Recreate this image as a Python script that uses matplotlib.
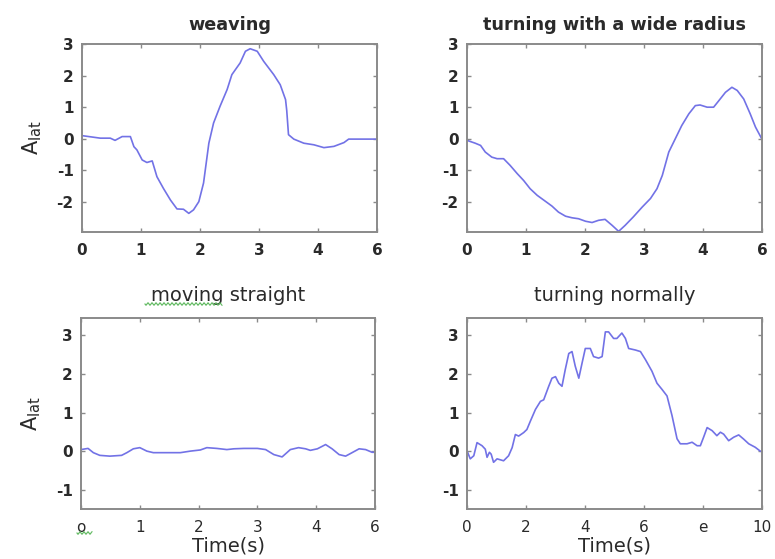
import numpy as np
import matplotlib
matplotlib.use("Agg")
import matplotlib.pyplot as plt

# ---------------- data ----------------
weaving_t = [0, 0.31, 0.48, 0.56, 0.68, 0.82, 0.88, 0.93, 1.02, 1.10, 1.19, 1.27, 1.38, 1.50,
             1.61, 1.72, 1.81, 1.89, 1.98, 2.06, 2.15, 2.23, 2.34, 2.46, 2.54, 2.68, 2.77, 2.85,
             2.97, 3.08, 3.25, 3.36, 3.45, 3.47, 3.50, 3.59, 3.76, 3.93, 4.10, 4.27, 4.44, 4.52, 5.0]
weaving_a = [0.10, 0.02, 0.02, -0.05, 0.07, 0.07, -0.25, -0.35, -0.67, -0.75, -0.70, -1.20, -1.57,
             -1.94, -2.22, -2.23, -2.36, -2.25, -1.99, -1.40, -0.14, 0.50, 1.03, 1.56, 2.03, 2.40,
             2.77, 2.85, 2.77, 2.45, 2.03, 1.71, 1.24, 0.90, 0.13, -0.01, -0.14, -0.19, -0.28,
             -0.24, -0.12, -0.01, -0.01]

wide_t = [0, 0.14, 0.23, 0.31, 0.42, 0.51, 0.62, 0.73, 0.85, 0.96, 1.07, 1.19, 1.33, 1.44, 1.55,
          1.67, 1.78, 1.89, 2.01, 2.12, 2.23, 2.34, 2.46, 2.57, 2.68, 2.82, 2.97, 3.11, 3.22, 3.31,
          3.42, 3.53, 3.64, 3.76, 3.87, 3.95, 4.07, 4.18, 4.27, 4.38, 4.49, 4.58, 4.69, 4.80, 4.89, 4.99]
wide_a = [-0.05, -0.14, -0.21, -0.42, -0.58, -0.63, -0.63, -0.84, -1.10, -1.32, -1.58, -1.79, -1.98,
          -2.13, -2.32, -2.45, -2.50, -2.53, -2.61, -2.65, -2.58, -2.55, -2.74, -2.93, -2.74, -2.47,
          -2.16, -1.89, -1.58, -1.16, -0.42, 0.00, 0.42, 0.79, 1.05, 1.07, 1.00, 1.00, 1.21, 1.47,
          1.63, 1.53, 1.26, 0.79, 0.37, 0.02]

straight_t = [0, 0.12, 0.21, 0.32, 0.49, 0.69, 0.78, 0.89, 1.00, 1.12, 1.23, 1.46, 1.69, 1.86, 2.03,
              2.14, 2.31, 2.48, 2.60, 2.77, 3.00, 3.14, 3.28, 3.42, 3.56, 3.70, 3.82, 3.90, 4.02,
              4.16, 4.27, 4.39, 4.50, 4.61, 4.73, 4.84, 4.95, 5.0]
straight_a = [0.04, 0.07, -0.04, -0.11, -0.13, -0.11, -0.04, 0.06, 0.09, 0.00, -0.04, -0.04, -0.04,
              0.00, 0.03, 0.09, 0.07, 0.04, 0.06, 0.07, 0.07, 0.04, -0.09, -0.15, 0.04, 0.09, 0.06,
              0.02, 0.06, 0.17, 0.06, -0.09, -0.13, -0.04, 0.06, 0.04, -0.03, -0.03]

normal_t = [0, 0.11, 0.23, 0.34, 0.51, 0.62, 0.68, 0.76, 0.82, 0.90, 1.02, 1.24, 1.41, 1.53, 1.64,
            1.75, 1.92, 2.03, 2.15, 2.32, 2.49, 2.60, 2.77, 2.88, 3.00, 3.11, 3.22, 3.33, 3.45,
            3.56, 3.67, 3.79, 3.90, 4.01, 4.18, 4.29, 4.46, 4.58, 4.69, 4.80, 4.97, 5.08, 5.25,
            5.37, 5.48, 5.71, 5.88, 6.05, 6.27, 6.44, 6.61, 6.78, 6.95, 7.12, 7.23, 7.46, 7.63,
            7.80, 7.91, 8.02, 8.14, 8.31, 8.47, 8.59, 8.70, 8.87, 9.04, 9.21, 9.38, 9.55, 9.77, 9.94]
normal_a = [0.01, -0.20, -0.12, 0.22, 0.14, 0.05, -0.16, -0.03, -0.08, -0.29, -0.20, -0.25, -0.12,
            0.09, 0.43, 0.39, 0.48, 0.56, 0.78, 1.08, 1.29, 1.33, 1.68, 1.89, 1.93, 1.76, 1.68,
            2.11, 2.53, 2.58, 2.20, 1.89, 2.28, 2.66, 2.66, 2.45, 2.41, 2.45, 3.09, 3.09, 2.92,
            2.92, 3.06, 2.92, 2.66, 2.62, 2.58, 2.37, 2.07, 1.76, 1.60, 1.43, 0.92, 0.32, 0.19,
            0.19, 0.23, 0.14, 0.14, 0.36, 0.61, 0.53, 0.40, 0.49, 0.44, 0.27, 0.36, 0.42, 0.31,
            0.19, 0.10, 0.00]

titles = ["weaving", "turning with a wide radius", "moving straight", "turning normally"]
top_yticks = [-2, -1, 0, 1, 2, 3]
bottom_yticks = [-1, 0, 1, 2, 3]
xticks_5 = [0, 1, 2, 3, 4, 5]
xticklabels_top = ["0", "1", "2", "3", "4", "6"]
xticklabels_bl = ["o", "1", "2", "3", "4", "6"]
xticks_10 = [0, 2, 4, 6, 8, 10]
xticklabels_br = ["0", "2", "4", "6", "e", "10"]
ylabel = r"$\mathrm{A}_{\mathrm{lat}}$"
xlabel = "Time(s)"

# ---------------- style ----------------
LINE = "#7272e6"
FRAME = "#8a8a8a"
TXT = "#2a2a2a"

fig = plt.figure(figsize=(7.75, 5.59), dpi=100)
W, H = 775, 559

def rect(l, r, t, b):
    return [l / W, (H - b) / H, (r - l) / W, (b - t) / H]

ax_tl = fig.add_axes(rect(82, 377, 44, 232))
ax_tr = fig.add_axes(rect(467, 762, 44, 232))
ax_bl = fig.add_axes(rect(81, 375, 318, 509))
ax_br = fig.add_axes(rect(467, 762, 318, 509))

def style(ax, xt, xtl, yt, ylim, xlim, title, top, xbold):
    for s in ax.spines.values():
        s.set_color(FRAME)
        s.set_linewidth(1.4)
    ax.set_xlim(*xlim)
    ax.set_ylim(*ylim)
    ax.set_xticks(xt)
    ax.set_xticklabels(xtl, fontweight="bold" if xbold else "normal")
    ax.set_yticks(yt)
    ax.set_yticklabels([str(v) for v in yt], fontweight="bold")
    ax.tick_params(direction="in", top=True, right=True, length=3, width=1,
                   color=FRAME, labelcolor=TXT, labelsize=11)
    ax.tick_params(axis="x", pad=8)
    ax.tick_params(axis="y", pad=6)
    if top:
        ax.set_title(title, fontsize=12.7, fontweight="bold", color=TXT, pad=10)
    else:
        ax.set_title(title, fontsize=14, color=TXT, pad=12)

ax_tl.plot(weaving_t, weaving_a, color=LINE, lw=1.2)
ax_tr.plot(wide_t, wide_a, color=LINE, lw=1.2)
ax_bl.plot(straight_t, straight_a, color=LINE, lw=1.2)
ax_br.plot(normal_t, normal_a, color=LINE, lw=1.2)

style(ax_tl, xticks_5, xticklabels_top, top_yticks, (-2.95, 3), (0, 5), titles[0], True, True)
style(ax_tr, xticks_5, xticklabels_top, top_yticks, (-2.95, 3), (0, 5), titles[1], True, True)
style(ax_bl, xticks_5, xticklabels_bl, bottom_yticks, (-1.5, 3.45), (0, 5), titles[2], False, False)
style(ax_br, xticks_10, xticklabels_br, bottom_yticks, (-1.5, 3.45), (0, 10), titles[3], False, False)

for ax in (ax_tl, ax_bl):
    ax.set_ylabel(ylabel, fontsize=15, color=TXT)
    ax.yaxis.set_label_coords(-0.13, 0.5)

for ax in (ax_bl, ax_br):
    ax.set_xlabel(xlabel, fontsize=14, color=TXT, labelpad=1)

# spell-check squiggles seen in the picture
def squiggle(x0, x1, y):
    xs = np.linspace(x0, x1, int((x1 - x0) * 2))
    ys = y + 1.2 * np.sin((xs - x0) * np.pi / 2.0)
    fig.add_artist(plt.Line2D(xs / W, (H - ys) / H, color="#5cb85c", lw=0.8))

squiggle(145, 222, 304)
squiggle(77, 92, 533)

fig.savefig("out.png", dpi=100)
